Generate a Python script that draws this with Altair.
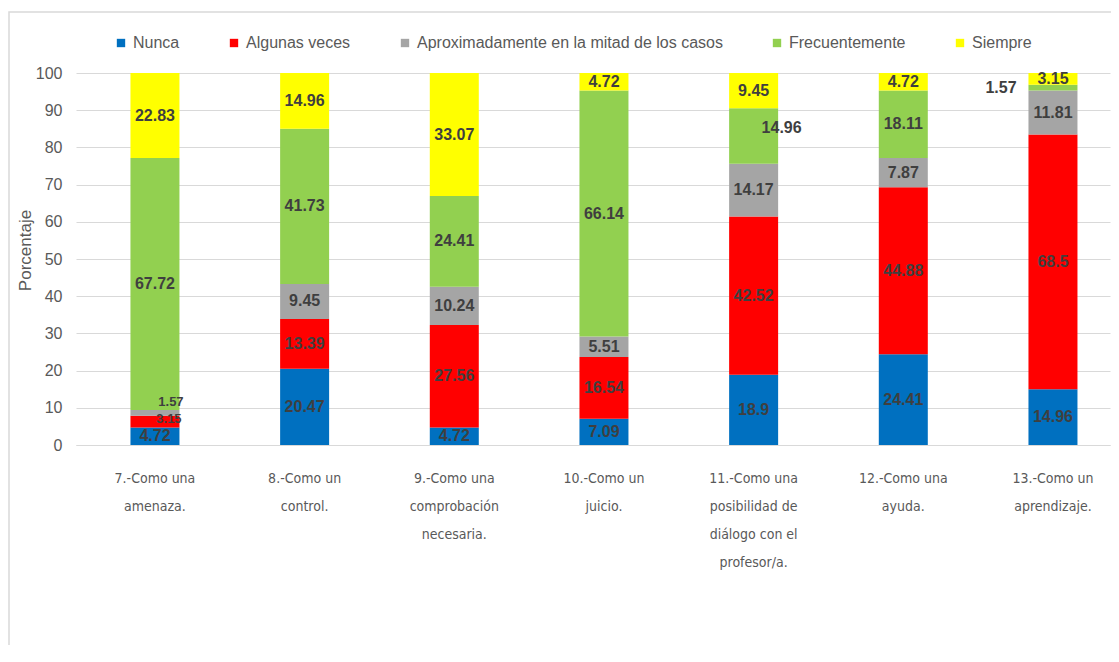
import altair as alt
import pandas as pd

categorias = [
    "7.-Como una\namenaza.",
    "8.-Como un\ncontrol.",
    "9.-Como una\ncomprobación\nnecesaria.",
    "10.-Como un\njuicio.",
    "11.-Como una\nposibilidad de\ndiálogo con el\nprofesor/a.",
    "12.-Como una\nayuda.",
    "13.-Como un\naprendizaje.",
]
series = ["Nunca", "Algunas veces", "Aproximadamente en la mitad de los casos",
          "Frecuentemente", "Siempre"]
nunca = [4.72, 20.47, 4.72, 7.09, 18.9, 24.41, 14.96]
algunas = [3.15, 13.39, 27.56, 16.54, 42.52, 44.88, 68.5]
aprox = [1.57, 9.45, 10.24, 5.51, 14.17, 7.87, 11.81]
frecuente = [67.72, 41.73, 24.41, 66.14, 14.96, 18.11, 1.57]
siempre = [22.83, 14.96, 33.07, 4.72, 9.45, 4.72, 3.15]
colores = ["#0070C0", "#FF0000", "#A5A5A5", "#92D050", "#FFFF00"]

valores = [nunca, algunas, aprox, frecuente, siempre]
rows = []
for si, (s, vals) in enumerate(zip(series, valores)):
    for ci, (c, v) in enumerate(zip(categorias, vals)):
        rows.append({"cat": c, "serie": s, "orden": si, "valor": v,
                     "etiqueta": f"{v:g}", "ci": ci})
df = pd.DataFrame(rows)

W, H = 1034, 372
FONT_AX = "Liberation Sans Narrow, DejaVu Sans Condensed, Liberation Sans, sans-serif"
FONT = "Liberation Sans, sans-serif"

x_scale = alt.Scale(paddingInner=0.6726, paddingOuter=0.2906, align=0.626)
x_axis = alt.Axis(labelExpr="split(datum.label, '\\n')", labelAngle=0,
                  labelFontSize=14, labelFont=FONT_AX, labelColor="#595959",
                  labelLineHeight=28, labelPadding=26, ticks=False,
                  domainColor="#D9D9D9", labelLimit=200)

y_axis = alt.Axis(values=list(range(0, 101, 10)), grid=True, gridColor="#D9D9D9",
                  labelOverlap=False, domain=False, ticks=False, labelFontSize=16,
                  labelFont=FONT, labelColor="#595959", labelPadding=14,
                  titleFontSize=17, titleFont=FONT, titleColor="#595959",
                  titleFontWeight="normal", titleX=-51, titleY=177,
                  titleAngle=270, titleBaseline="middle", titleAlign="center")
y_scale = alt.Scale(domain=[0, 100], nice=False)

base = alt.Chart(df).transform_stack(
    stack="valor", groupby=["cat"], sort=[alt.SortField("orden", "ascending")],
    as_=["y0", "y1"]
).transform_calculate(mid="(datum.y0 + datum.y1) / 2")

bars = base.mark_bar().encode(
    x=alt.X("cat:N", sort=categorias, title=None, scale=x_scale, axis=x_axis),
    y=alt.Y("y0:Q", title="Porcentaje", scale=y_scale, axis=y_axis),
    y2="y1:Q",
    color=alt.Color("serie:N", sort=series,
                    scale=alt.Scale(domain=series, range=colores),
                    legend=alt.Legend(title=None, orient="none", legendX=37, legendY=-38,
                                      direction="horizontal", symbolType="square",
                                      symbolSize=70, symbolStrokeWidth=0,
                                      labelFontSize=16, labelFont=FONT,
                                      labelColor="#595959", columnPadding=46,
                                      labelOffset=4, labelLimit=500)),
    order=alt.Order("orden:Q"),
)

txt = dict(font=FONT, fontSize=16, fontWeight="bold", color="#3F3F3F", baseline="middle")
small = dict(txt, fontSize=13)
enc = dict(x=alt.X("cat:N", sort=categorias, title=None, scale=x_scale, axis=x_axis),
           y=alt.Y("mid:Q", title="Porcentaje", scale=y_scale, axis=y_axis),
           text="etiqueta:N")

special = ("(datum.ci == 6 && datum.orden == 3) || (datum.ci == 4 && datum.orden == 3)"
           " || (datum.ci == 0 && (datum.orden == 1 || datum.orden == 2))")

labels = base.transform_filter("!(" + special + ")").mark_text(**txt).encode(**enc)

lab_left = base.transform_filter("datum.ci == 6 && datum.orden == 3").mark_text(
    dx=-52, **txt).encode(**enc)

lab_right = base.transform_filter("datum.ci == 4 && datum.orden == 3").mark_text(
    dx=28, dy=-8, **txt).encode(**enc)

lab_red7 = base.transform_filter("datum.ci == 0 && datum.orden == 1").mark_text(
    dx=14, dy=-3, **small).encode(**enc)

lab_gray7 = base.transform_filter("datum.ci == 0 && datum.orden == 2").mark_text(
    dx=16, dy=-11, **small).encode(**enc)

border = alt.Chart(alt.Data(values=[{}])).mark_rect(
    fillOpacity=0, stroke="#D9D9D9", strokeWidth=1.5
).encode(x=alt.value(-67), x2=alt.value(W + 40), y=alt.value(-61), y2=alt.value(H + 300))

chart = alt.layer(border, bars, labels, lab_left, lab_right, lab_red7, lab_gray7).properties(
    width=W, height=H,
    autosize=alt.AutoSizeParams(type="none"),
    padding={"left": 68, "top": 65, "right": 1, "bottom": 200},
).configure_view(stroke=None)

chart.save("out.html", embed_options={"renderer": "svg", "actions": False})
